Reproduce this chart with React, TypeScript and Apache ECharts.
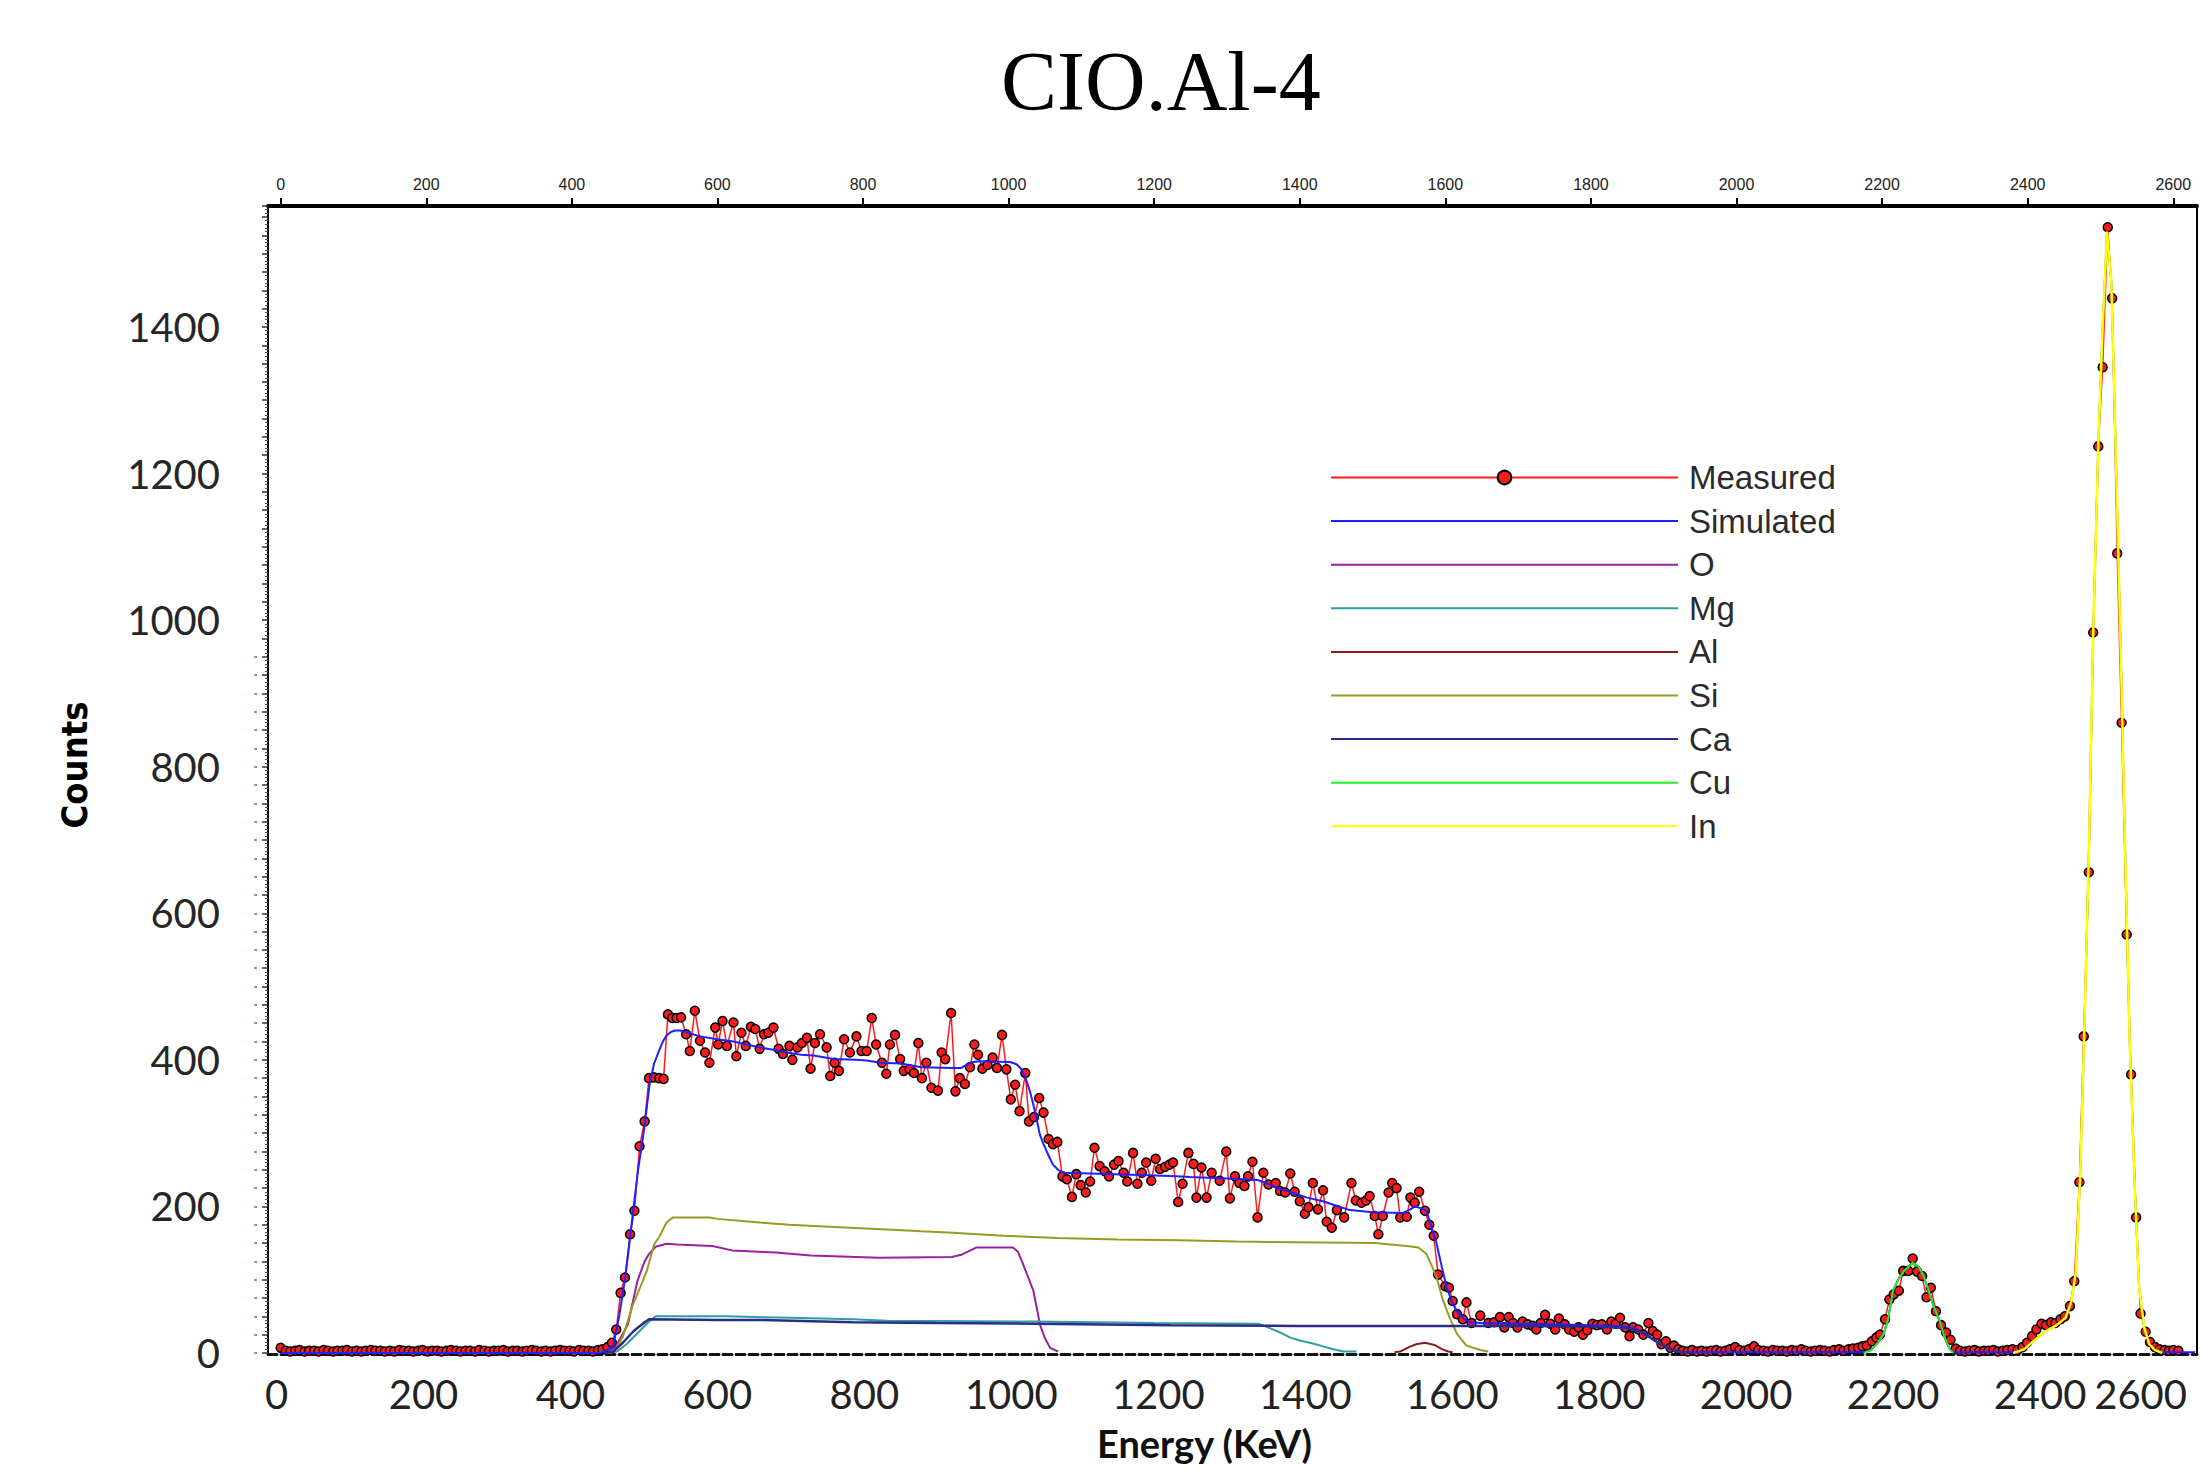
import React, { useEffect, useRef } from "react";
import * as echarts from "echarts";

// ---------- labels ----------
const chartTitle = "CIO.Al-4";
const xAxisTitle = "Energy (KeV)";
const yAxisTitle = "Counts";
const seriesNames = ["Measured", "Simulated", "O", "Mg", "Al", "Si", "Ca", "Cu", "In"];
const seriesColors = ["#ff1a1a", "#1f1fff", "#9b1fa5", "#2f9e9e", "#8b1c1c", "#9a9a22", "#2b2b8f", "#22ee22", "#ffff00"];
const topTickValues = [0, 200, 400, 600, 800, 1000, 1200, 1400, 1600, 1800, 2000, 2200, 2400, 2600];
const bottomTickValues = [0, 200, 400, 600, 800, 1000, 1200, 1400, 1600, 1800, 2000, 2200, 2400, 2600];
const yTickValues = [0, 200, 400, 600, 800, 1000, 1200, 1400];
const blueTickValues = [0, 25, 50, 75, 100, 125, 150, 175, 200, 225, 250, 275, 300, 325, 350, 375, 400, 425, 450, 475, 500, 525, 550, 575, 600, 625, 650, 675, 700, 725, 750, 775, 800, 825, 850, 875, 900, 925, 950];

// ---------- data: [energy keV, counts] ----------
const measured: [number, number][] = [
  [0, 7], [7, 3], [13, 2], [20, 3], [26, 4], [33, 2], [39, 3], [46, 3], [52, 2], [59, 4], [65, 3], [72, 2], [78, 3], [85, 3], [91, 4], [98, 2], [104, 3], [111, 2], [117, 3], [124, 4], [130, 3], [137, 3], [143, 2], [150, 3], [156, 2], [163, 4], [169, 3], [176, 3], [182, 2], [189, 3], [195, 4], [202, 2], [208, 3], [215, 3], [221, 2], [228, 3], [234, 4], [241, 3], [247, 2], [254, 3], [260, 3], [267, 2], [273, 4], [280, 3], [286, 2], [293, 3], [299, 3], [306, 4], [312, 2], [319, 3], [325, 3], [332, 2], [338, 3], [345, 4], [351, 3], [358, 2], [364, 3], [371, 2], [377, 3], [384, 4], [390, 3], [397, 3], [403, 2], [410, 4], [416, 3], [423, 3], [429, 2], [436, 4],
  [442, 5], [449, 8], [455, 14], [461, 32], [467, 82], [473, 103], [480, 162], [486, 194], [493, 282], [500, 316], [506, 375], [513, 376], [520, 375], [526, 374], [532, 462], [538, 457], [544, 457], [550, 458], [557, 435], [562, 412], [569, 467], [576, 426], [583, 410], [589, 396], [597, 444], [601, 421], [607, 453], [613, 419], [622, 451], [626, 405], [633, 437], [639, 419], [646, 445], [652, 442], [658, 415], [664, 435], [670, 437], [677, 444], [684, 415], [690, 408], [699, 419], [703, 400], [710, 417], [716, 423], [723, 430], [728, 388], [734, 423], [741, 435], [750, 417], [755, 378], [761, 396], [767, 385], [774, 428], [782, 410], [791, 432], [798, 412], [805, 412], [812, 457], [818, 421], [826, 396], [832, 381], [837, 421], [844, 434], [851, 401], [856, 385], [864, 387], [870, 382], [876, 423], [881, 375], [887, 396], [894, 362], [903, 358], [908, 410], [913, 401], [921, 464], [927, 357], [933, 375], [940, 367], [947, 390], [953, 421], [958, 407], [964, 388], [971, 393], [978, 403], [984, 389], [991, 434], [997, 387],
  [1003, 346], [1009, 366], [1015, 330], [1023, 382], [1028, 316], [1035, 322], [1042, 348], [1048, 328], [1055, 292], [1061, 285], [1067, 288], [1074, 241], [1080, 237], [1087, 213], [1093, 244], [1099, 229], [1106, 219], [1112, 234], [1118, 280], [1125, 255], [1132, 248], [1138, 241], [1145, 257], [1151, 262], [1158, 246], [1163, 234], [1171, 273], [1177, 231], [1183, 246], [1189, 260], [1196, 235], [1202, 265], [1208, 251], [1215, 254], [1221, 257], [1226, 260], [1233, 206], [1239, 231], [1247, 273], [1254, 258], [1258, 212], [1265, 253], [1272, 212], [1279, 246], [1290, 235], [1299, 275], [1304, 211], [1311, 241], [1317, 232], [1324, 228], [1329, 241], [1335, 261], [1342, 185], [1350, 246], [1357, 230], [1367, 232], [1373, 221], [1380, 219], [1387, 245], [1393, 220], [1400, 207], [1407, 190], [1412, 199], [1418, 232], [1425, 196], [1432, 222], [1437, 179], [1444, 171], [1451, 195], [1461, 185], [1471, 232], [1477, 208], [1485, 205], [1491, 208], [1496, 214], [1503, 187], [1508, 162], [1514, 187], [1522, 219], [1527, 232], [1533, 225], [1538, 185], [1547, 186], [1552, 212], [1558, 205], [1564, 220], [1572, 194], [1578, 175], [1584, 160], [1590, 107], [1600, 91], [1605, 89], [1610, 71], [1616, 53], [1624, 46], [1629, 69], [1636, 41], [1648, 51],
  [1659, 41], [1667, 42], [1675, 49], [1681, 35], [1687, 49], [1693, 41], [1699, 35], [1706, 43], [1713, 39], [1720, 37], [1725, 32], [1731, 41], [1737, 52], [1744, 40], [1751, 32], [1756, 47], [1764, 39], [1770, 32], [1777, 29], [1783, 35], [1789, 25], [1795, 31], [1802, 40], [1808, 38], [1815, 39], [1822, 32], [1828, 43], [1834, 40], [1840, 48], [1847, 35], [1853, 23], [1858, 35], [1865, 32], [1872, 25], [1879, 41], [1885, 30], [1891, 25], [1897, 12], [1903, 16], [1909, 7], [1914, 10], [1920, 5],
  [1926, 3], [1933, 2], [1939, 4], [1946, 2], [1952, 3], [1959, 2], [1965, 3], [1972, 4], [1978, 2], [1985, 3], [1991, 5], [1998, 8], [2004, 4], [2011, 3], [2017, 5], [2024, 9], [2030, 4], [2037, 3], [2043, 2], [2050, 4], [2056, 3], [2063, 3], [2069, 2], [2076, 4], [2082, 3], [2089, 5], [2095, 3], [2102, 2], [2108, 3], [2115, 4], [2121, 3], [2128, 2], [2134, 4], [2141, 5], [2147, 3], [2154, 5], [2160, 6],
  [2167, 7], [2173, 9], [2179, 10], [2186, 16], [2192, 21], [2197, 25], [2204, 46], [2210, 73], [2216, 80], [2223, 85], [2229, 112], [2236, 112], [2242, 129], [2248, 111], [2255, 105], [2261, 76], [2267, 89], [2274, 57], [2281, 38], [2288, 28], [2294, 18], [2301, 6],
  [2307, 3], [2314, 2], [2320, 3], [2327, 4], [2333, 2], [2340, 3], [2346, 3], [2353, 4], [2359, 2], [2366, 3], [2372, 4], [2379, 5], [2386, 4],
  [2393, 8], [2399, 14], [2406, 23], [2412, 32], [2419, 40], [2425, 38], [2432, 42], [2438, 41], [2445, 46], [2451, 50], [2458, 64], [2464, 98], [2471, 233], [2477, 432], [2484, 656], [2490, 983], [2497, 1237], [2503, 1345], [2510, 1536], [2516, 1439], [2523, 1091], [2529, 860], [2536, 571], [2542, 380], [2549, 185], [2555, 54], [2562, 29], [2568, 15], [2575, 8], [2581, 5], [2588, 4], [2594, 3], [2600, 4], [2607, 3]
];

const simulated: [number, number][] = [
  [0, 0], [440, 0], [450, 5], [457, 10], [465, 50], [473, 100], [478, 140], [484, 192], [491, 250], [498, 296], [503, 335], [507, 368], [513, 395], [520, 413], [525, 425], [530, 433], [536, 438], [542, 440], [549, 440], [556, 438], [576, 432], [600, 428], [622, 425], [640, 421], [658, 417], [680, 413], [695, 410], [715, 407], [732, 406], [760, 401], [790, 400], [805, 399], [824, 396], [852, 395], [880, 390], [923, 389], [935, 389], [947, 396], [958, 398], [1002, 397], [1011, 394], [1017, 388], [1023, 376], [1029, 358], [1034, 339], [1040, 312], [1043, 298], [1048, 285], [1052, 276], [1057, 265], [1061, 257], [1068, 250], [1075, 246], [1112, 245], [1180, 243], [1231, 241], [1249, 240], [1300, 238], [1342, 236], [1358, 230], [1373, 224], [1392, 218], [1410, 212], [1432, 207], [1450, 201], [1469, 195], [1500, 192], [1542, 191], [1552, 196], [1558, 200], [1565, 198], [1574, 194], [1581, 172], [1588, 149], [1595, 118], [1602, 89], [1609, 70], [1616, 57], [1625, 47], [1634, 42], [1650, 41], [1700, 40], [1760, 39], [1800, 38], [1840, 37], [1860, 34], [1875, 26], [1890, 16], [1905, 7], [1918, 2], [1930, 1], [2150, 1], [2175, 1], [2185, 4], [2195, 15], [2202, 26], [2208, 45], [2215, 85], [2222, 100], [2230, 112], [2242, 123], [2250, 118], [2257, 105], [2264, 85], [2270, 66], [2279, 44], [2286, 21], [2293, 5], [2298, 1], [2380, 1], [2395, 5], [2410, 18], [2425, 30], [2440, 38], [2452, 48], [2460, 70], [2466, 110], [2472, 240], [2478, 450], [2484, 680], [2490, 980], [2497, 1240], [2503, 1400], [2509, 1530], [2515, 1460], [2521, 1230], [2528, 950], [2534, 680], [2540, 430], [2547, 230], [2553, 90], [2560, 35], [2567, 12], [2575, 4], [2585, 1], [2630, 1]
];

const oxygen: [number, number][] = [
  [448, 0], [460, 8], [477, 39], [490, 98], [500, 125], [506, 135], [515, 145], [530, 149], [545, 148], [593, 146], [620, 140], [680, 137], [728, 133], [822, 130], [922, 131], [935, 134], [956, 144], [1006, 144], [1013, 138], [1020, 121], [1027, 103], [1034, 85], [1040, 55], [1043, 39], [1050, 20], [1057, 7], [1068, 2]
];

const magnesium: [number, number][] = [
  [450, 0], [462, 2], [475, 12], [490, 27], [505, 42], [515, 50], [612, 50], [700, 48], [786, 46], [833, 44], [1036, 43], [1200, 41], [1343, 40], [1359, 34], [1373, 28], [1387, 21], [1400, 17], [1418, 13], [1432, 9], [1446, 5], [1460, 2], [1478, 2]
];

const aluminium: [number, number][] = [
  [1530, 1], [1538, 2], [1550, 8], [1560, 12], [1572, 14], [1585, 11], [1596, 5], [1604, 2], [1610, 1]
];

const silicon: [number, number][] = [
  [450, 0], [460, 5], [470, 22], [484, 66], [494, 90], [503, 112], [513, 148], [521, 160], [530, 178], [539, 185], [589, 185], [600, 183], [658, 178], [699, 175], [760, 172], [840, 168], [880, 166], [923, 164], [993, 160], [1066, 157], [1150, 155], [1235, 154], [1313, 152], [1503, 150], [1547, 146], [1563, 144], [1574, 135], [1581, 120], [1588, 103], [1597, 71], [1606, 48], [1616, 26], [1629, 10], [1648, 4], [1659, 2]
];

const calcium: [number, number][] = [
  [445, 0], [457, 2], [470, 14], [485, 30], [500, 42], [506, 46], [600, 45], [660, 45], [786, 42], [900, 41], [1036, 40], [1223, 38], [1400, 37], [1620, 37], [1700, 37], [1800, 36], [1850, 34], [1865, 30], [1880, 22], [1895, 12], [1910, 5], [1925, 1], [1935, 0]
];

const copper: [number, number][] = [
  [2175, 0], [2185, 4], [2195, 15], [2202, 26], [2208, 45], [2215, 85], [2222, 100], [2230, 112], [2242, 123], [2250, 118], [2257, 105], [2264, 85], [2270, 66], [2279, 44], [2286, 21], [2293, 5], [2298, 0]
];

const indium: [number, number][] = [
  [2380, 0], [2395, 5], [2410, 18], [2425, 30], [2440, 38], [2452, 48], [2460, 70], [2466, 110], [2472, 240], [2478, 450], [2484, 680], [2490, 980], [2497, 1240], [2503, 1400], [2509, 1530], [2515, 1460], [2521, 1230], [2528, 950], [2534, 680], [2540, 430], [2547, 230], [2553, 90], [2560, 35], [2567, 12], [2575, 4], [2585, 0]
];

const seriesData = [measured, simulated, oxygen, magnesium, aluminium, silicon, calcium, copper, indium];
const seriesWidths = [1.5, 2, 2, 2, 2, 2, 2.5, 2, 2.5];

const plainNumber = (v: number) => String(v);

export default function App() {
  const ref = useRef<HTMLDivElement>(null);

  useEffect(() => {
    if (!ref.current) return;
    const chart = echarts.init(ref.current, undefined, { renderer: "svg" });

    const series: any[] = seriesNames.map((name, i) => {
      const isMeasured = i === 0;
      return {
        name,
        type: "line",
        xAxisIndex: 0,
        yAxisIndex: 0,
        data: seriesData[i],
        symbol: isMeasured ? "circle" : "none",
        symbolSize: 9,
        showSymbol: isMeasured,
        z: i === 0 ? 2 : i === 1 ? 3 : 4,
        lineStyle: { color: seriesColors[i], width: seriesWidths[i] },
        itemStyle: isMeasured
          ? { color: seriesColors[i], borderColor: "#000", borderWidth: 1.5 }
          : { color: seriesColors[i] },
        emphasis: { disabled: true },
      };
    });

    const option: any = {
      animation: false,
      backgroundColor: "#ffffff",
      title: {
        text: chartTitle,
        left: 1001,
        top: 39,
        padding: 0,
        textStyle: { fontFamily: "'Liberation Serif', 'Times New Roman', serif", fontSize: 84, fontWeight: "normal", color: "#000" },
      },
      grid: { left: 268, right: 4, top: 206, bottom: 115, containLabel: false, outerBoundsMode: "none" },
      legend: {
        orient: "vertical",
        left: 1330,
        top: 461,
        padding: 0,
        itemWidth: 347,
        itemHeight: 17,
        itemGap: 10.6,
        selectedMode: false,
        data: seriesNames.map((n, i) => (i === 0 ? { name: n } : { name: n, itemStyle: { opacity: 0 } })),
        textStyle: { fontFamily: "'Liberation Sans', Arial, sans-serif", fontSize: 33, color: "#2b2b2b", lineHeight: 33, padding: [0, 0, 0, 6] },
      },
      xAxis: [
        {
          type: "value",
          position: "top",
          min: -17.4,
          max: 2632.6,
          axisLine: { show: true, onZero: false, lineStyle: { color: "#000", width: 4 } },
          axisTick: { show: true, customValues: topTickValues, length: 8, lineStyle: { color: "#000", width: 2 } },
          axisLabel: { customValues: topTickValues, formatter: plainNumber, fontFamily: "'Liberation Sans', Arial, sans-serif", fontSize: 16, color: "#222", margin: 14 },
          splitLine: { show: false },
        },
        {
          type: "value",
          position: "bottom",
          min: -11.6,
          max: 2613.6,
          offset: 1,
          axisLine: { show: true, onZero: false, lineStyle: { color: "#111", width: 3, type: [9, 4] } },
          axisTick: { show: false },
          axisLabel: { customValues: bottomTickValues, formatter: plainNumber, fontFamily: "Lato, 'Open Sans', sans-serif", fontSize: 40, lineHeight: 40, color: "#222", margin: 20, alignMaxLabel: "right" },
          splitLine: { show: false },
          name: xAxisTitle,
          nameLocation: "middle",
          nameGap: 69,
          nameMoveOverlap: false,
          nameTextStyle: { fontFamily: "Lato, 'Open Sans', sans-serif", fontSize: 38, fontWeight: "bold", color: "#111", lineHeight: 40, padding: [0, 56, 0, 0] },
        },
      ],
      yAxis: [
        {
          type: "value",
          position: "left",
          min: 0,
          max: 1565,
          axisLine: { show: true, onZero: false, lineStyle: { color: "#000", width: 2 } },
          axisTick: { show: false },
          axisLabel: { customValues: yTickValues, formatter: plainNumber, fontFamily: "Lato, 'Open Sans', sans-serif", fontSize: 40, color: "#262626", margin: 48 },
          splitLine: { show: false },
          name: yAxisTitle,
          nameLocation: "middle",
          nameGap: 176,
          nameMoveOverlap: false,
          nameRotate: 90,
          nameTextStyle: { fontFamily: "'Liberation Sans Narrow', 'DejaVu Sans Condensed', 'Liberation Sans', sans-serif", fontSize: 36, fontWeight: "bold", color: "#000", padding: [0, 0, 0, 29] },
        },
        {
          type: "value",
          position: "left",
          min: 0,
          max: 1565,
          interval: 25,
          axisLine: { show: false, onZero: false },
          axisTick: { show: true, length: 6, lineStyle: { color: "#333", width: 1.5 } },
          minorTick: { show: true, splitNumber: 5, length: 3, lineStyle: { color: "#555", width: 1 } },
          axisLabel: { show: false },
          splitLine: { show: false },
        },
        {
          type: "value",
          position: "left",
          min: 0,
          max: 1565,
          offset: 11,
          axisLine: { show: false, onZero: false },
          axisTick: { show: true, customValues: blueTickValues, length: 3, lineStyle: { color: "#6f9fdc", width: 2 } },
          axisLabel: { show: false },
          splitLine: { show: false },
        },
        {
          type: "value",
          position: "right",
          min: 0,
          max: 1565,
          axisLine: { show: true, onZero: false, lineStyle: { color: "#000", width: 2 } },
          axisTick: { show: false },
          axisLabel: { show: false },
          splitLine: { show: false },
        },
      ],
      series,
    };

    chart.setOption(option);
    return () => chart.dispose();
  }, []);

  return (
    <div
      ref={ref}
      style={{ position: "fixed", left: 0, top: 0, width: 2201, height: 1468, background: "#fff" }}
    />
  );
}
